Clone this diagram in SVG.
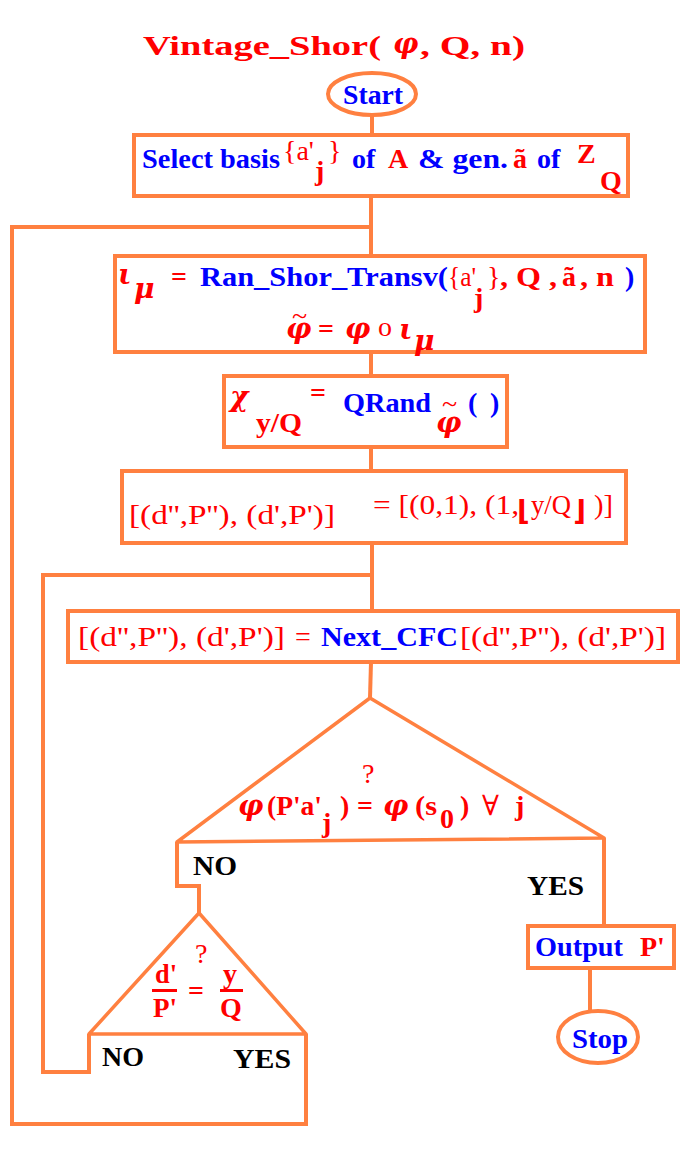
<svg xmlns="http://www.w3.org/2000/svg" width="697" height="1153" viewBox="0 0 697 1153">
<style>
.box{fill:#fff;stroke:#FF8040;stroke-width:4}
.ln{fill:none;stroke:#FF8040;stroke-width:4;stroke-linejoin:miter}
.tri{fill:none;stroke:#FF8040;stroke-width:3.5;stroke-linejoin:round}
text{font-family:"Liberation Serif","DejaVu Serif",serif;font-weight:bold;font-size:28px}
.r{fill:#FF0000}.b{fill:#0000FF}.k{fill:#000}
.n{font-weight:normal}.i{font-style:italic}
.g{font-family:"DejaVu Serif","Liberation Serif",serif;font-style:italic;font-weight:bold}
.m{font-family:"DejaVu Sans","Liberation Serif",sans-serif}
.bar{fill:#FF0000}
</style>
<rect width="697" height="1153" fill="#fff"/>
<g id="title">
<text class="r" x="143" y="55" font-size="46" textLength="238" lengthAdjust="spacingAndGlyphs">Vintage_Shor(</text>
<text class="r g" x="393" y="53" font-size="30" font-weight="normal">φ</text>
<text class="r" x="420" y="55" font-size="46" textLength="105" lengthAdjust="spacingAndGlyphs">, Q, n)</text>
</g>
<g id="connectors">
<line class="ln" x1="372" y1="116" x2="372" y2="134"/>
<line class="ln" x1="371" y1="196" x2="371" y2="256"/>
<polyline class="ln" points="306,1034 306,1124 12,1124 12,227 371,227"/>
<line class="ln" x1="371" y1="352" x2="371" y2="375"/>
<line class="ln" x1="371" y1="447" x2="371" y2="471"/>
<line class="ln" x1="372" y1="543" x2="372" y2="611"/>
<polyline class="ln" points="89,1034 89,1072 43,1072 43,575 372,575"/>
<line class="ln" x1="371" y1="662" x2="370" y2="698"/>
<polyline class="ln" points="177,842 177,886 199,886 199,913"/>
<line class="ln" x1="604" y1="838" x2="604" y2="925"/>
<line class="ln" x1="590" y1="968" x2="590" y2="1011"/>
</g>
<g id="start">
<ellipse class="box" cx="372" cy="94" rx="44" ry="21"/>
<text class="b" x="343" y="104" textLength="60" lengthAdjust="spacingAndGlyphs">Start</text>
</g>
<g id="select">
<rect class="box" x="134" y="135" width="494" height="61"/>
<text class="b" x="142" y="168" textLength="138" lengthAdjust="spacingAndGlyphs">Select basis</text>
<text class="r n" x="283" y="160" font-size="25">{a'</text>
<text class="r" x="315" y="180" font-size="27">j</text>
<text class="r n" x="328" y="160" font-size="25">}</text>
<text class="b" x="352" y="168">of</text>
<text class="r" x="388" y="168">A</text>
<text class="b" x="418" y="168" textLength="90" lengthAdjust="spacingAndGlyphs">&amp; gen.</text>
<text class="r" x="513" y="168">ã</text>
<text class="b" x="537" y="168">of</text>
<text class="r" x="577" y="163" font-size="26">Z</text>
<text class="r" x="600" y="190">Q</text>
</g>
<g id="transv">
<rect class="box" x="115" y="256" width="530" height="96"/>
<text class="r g" x="118" y="284" font-size="30">ι</text>
<text class="r g" x="134" y="298" font-size="30">μ</text>
<text class="r" x="171" y="286">=</text>
<text class="b" x="200" y="286" textLength="248" lengthAdjust="spacingAndGlyphs">Ran_Shor_Transv(</text>
<text class="r n" x="448" y="286" textLength="28" lengthAdjust="spacingAndGlyphs">{a'</text>
<text class="r" x="474" y="307">j</text>
<text class="r n" x="487" y="286">}</text>
<text class="r" x="500" y="286" textLength="57" lengthAdjust="spacingAndGlyphs">, Q ,</text>
<text class="r" x="562" y="286">ã</text>
<text class="r" x="580" y="286" textLength="34" lengthAdjust="spacingAndGlyphs">, n</text>
<text class="b" x="625" y="286">)</text>
<text class="r n" x="292" y="325" font-size="30">~</text>
<text class="r g" x="286" y="338" font-size="28">φ</text>
<text class="r" x="318" y="338">=</text>
<text class="r g" x="345" y="338" font-size="28">φ</text>
<text class="r n" x="378" y="336" font-size="16">o</text>
<text class="r g" x="399" y="339" font-size="30">ι</text>
<text class="r g" x="414" y="350" font-size="30">μ</text>
</g>
<g id="qrand">
<rect class="box" x="224" y="376" width="283" height="71"/>
<text class="r g" x="230" y="406" font-size="30">χ</text>
<text class="r" x="256" y="432" font-size="26" textLength="46" lengthAdjust="spacingAndGlyphs">y/Q</text>
<text class="r" x="310" y="402">=</text>
<text class="b" x="343" y="412" textLength="88" lengthAdjust="spacingAndGlyphs">QRand</text>
<text class="r n" x="442" y="413" font-size="26">~</text>
<text class="r g" x="436" y="432" font-size="26">φ</text>
<text class="b" x="468" y="412">(</text>
<text class="b" x="490" y="412">)</text>
</g>
<g id="init">
<rect class="box" x="122" y="471" width="504" height="72"/>
<text class="r n" x="129" y="524" font-size="32" textLength="206" lengthAdjust="spacingAndGlyphs">[(d'',P''), (d',P')]</text>
<text class="r n" x="373" y="514" font-size="32" textLength="146" lengthAdjust="spacingAndGlyphs">= [(0,1), (1,</text>
<text class="r m" x="517" y="520" font-size="34">⌊</text>
<text class="r n" x="531" y="514" font-size="32" textLength="40" lengthAdjust="spacingAndGlyphs">y/Q</text>
<text class="r m" x="573" y="520" font-size="34">⌋</text>
<text class="r n" x="594" y="514" font-size="32" textLength="19" lengthAdjust="spacingAndGlyphs">)]</text>
</g>
<g id="nextcfc">
<rect class="box" x="68" y="611" width="610" height="51"/>
<text class="r n" x="78" y="646" font-size="32" textLength="207" lengthAdjust="spacingAndGlyphs">[(d'',P''), (d',P')]</text>
<text class="r n" x="295" y="646" font-size="32">=</text>
<text class="b" x="321" y="646" font-size="30" textLength="137" lengthAdjust="spacingAndGlyphs">Next_CFC</text>
<text class="r n" x="460" y="646" font-size="32" textLength="206" lengthAdjust="spacingAndGlyphs">[(d'',P''), (d',P')]</text>
</g>
<g id="test1">
<polygon class="tri" points="370,698 604,838 177,842"/>
<text class="r g" x="238" y="815" font-size="28">φ</text>
<text class="r" x="267" y="815" textLength="55" lengthAdjust="spacingAndGlyphs">(P'a'</text>
<text class="r" x="322" y="832" font-size="26">j</text>
<text class="r" x="340" y="815">)</text>
<text class="r" x="357" y="815">=</text>
<text class="r n" x="362" y="783" font-size="24">?</text>
<text class="r g" x="383" y="815" font-size="28">φ</text>
<text class="r" x="415" y="815" textLength="22" lengthAdjust="spacingAndGlyphs">(s</text>
<text class="r" x="440" y="828" font-size="26">0</text>
<text class="r" x="460" y="815">)</text>
<text class="r n" x="482" y="815" font-size="30">∀</text>
<text class="r" x="515" y="815">j</text>
<text class="k" x="193" y="875" font-size="26" textLength="44" lengthAdjust="spacingAndGlyphs">NO</text>
<text class="k" x="527" y="895" font-size="26" textLength="57" lengthAdjust="spacingAndGlyphs">YES</text>
</g>
<g id="test2">
<polygon class="tri" points="199,913 306,1034 89,1034"/>
<text class="r" x="155" y="983" textLength="22" lengthAdjust="spacingAndGlyphs">d'</text>
<rect class="bar" x="152" y="989" width="25" height="3"/>
<text class="r" x="153" y="1017" textLength="24" lengthAdjust="spacingAndGlyphs">P'</text>
<text class="r n" x="195" y="963" font-size="24">?</text>
<text class="r" x="188" y="1000">=</text>
<text class="r" x="223" y="983">y</text>
<rect class="bar" x="220" y="989" width="23" height="3"/>
<text class="r" x="220" y="1017">Q</text>
<text class="k" x="102" y="1066" font-size="26" textLength="42" lengthAdjust="spacingAndGlyphs">NO</text>
<text class="k" x="233" y="1068" font-size="26" textLength="58" lengthAdjust="spacingAndGlyphs">YES</text>
</g>
<g id="output">
<rect class="box" x="528" y="926" width="146" height="42"/>
<text class="b" x="535" y="956" textLength="88" lengthAdjust="spacingAndGlyphs">Output</text>
<text class="r" x="640" y="956">P'</text>
</g>
<g id="stop">
<ellipse class="box" cx="598" cy="1037" rx="40" ry="26"/>
<text class="b" x="572" y="1048" textLength="56" lengthAdjust="spacingAndGlyphs">Stop</text>
</g>
</svg>
